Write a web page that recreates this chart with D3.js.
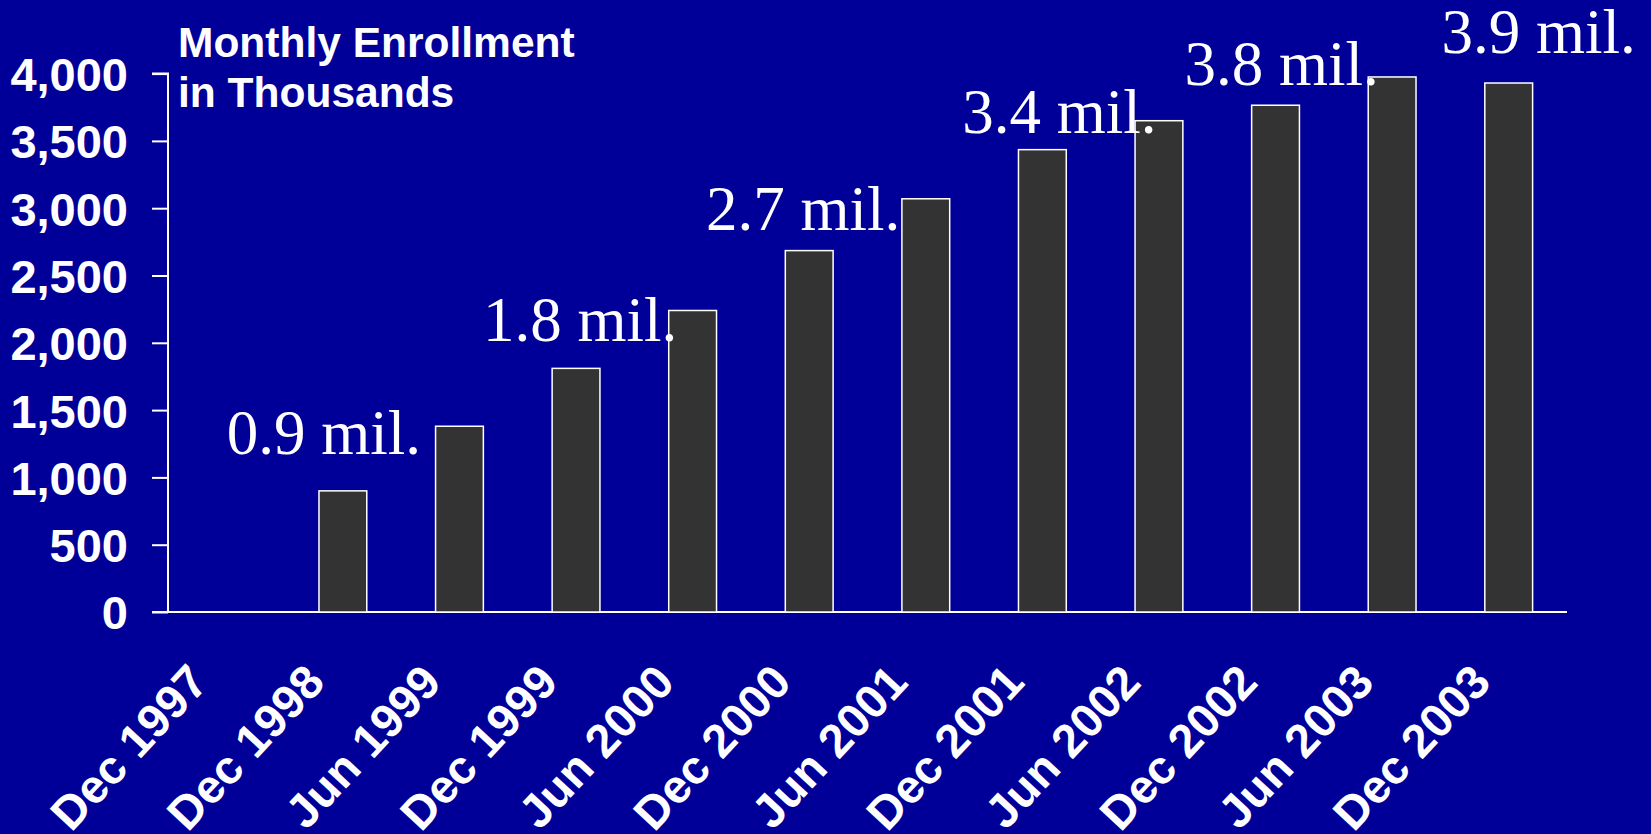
<!DOCTYPE html>
<html>
<head>
<meta charset="utf-8">
<script src="https://cdn.jsdelivr.net/npm/d3@7/dist/d3.min.js"></script>
<style>
  html, body { margin: 0; padding: 0; background: #000099; overflow: hidden; }
  svg { display: block; }
</style>
</head>
<body>
<div id="chart"></div>
<script>
// data
const categories = ['Dec 1997', 'Dec 1998', 'Jun 1999', 'Dec 1999', 'Jun 2000', 'Dec 2000',
  'Jun 2001', 'Dec 2001', 'Jun 2002', 'Dec 2002', 'Jun 2003', 'Dec 2003'];
const enrollment = [null, 900, 1380, 1810, 2240, 2685, 3070, 3435, 3650, 3765, 3975, 3930];
const yTickValues = [0, 500, 1000, 1500, 2000, 2500, 3000, 3500, 4000];
const calloutCategories = ['Dec 1998', 'Dec 1999', 'Dec 2000', 'Dec 2001', 'Dec 2002', 'Dec 2003'];
const calloutTexts = ['0.9 mil.', '1.8 mil.', '2.7 mil.', '3.4 mil.', '3.8 mil.', '3.9 mil.'];
const titleLines = ['Monthly Enrollment', 'in Thousands'];

// layout
const width = 1651;
const height = 834;
const bgColor = '#000099';
const barColor = '#333333';
const lineColor = '#ffffff';
const sansFont = '"Liberation Sans", Arial, sans-serif';
const serifFont = '"Liberation Serif", "Times New Roman", serif';
// free-floating text boxes on the slide, nudged from the bar top
const calloutDx = [-19, 4, -6, 17, 6, 30];
const calloutGap = [37, 27, 21, 17, 20, 30];

const plot = {left: 168, right: 1567, top: 73.6, bottom: 612};

const svg = d3.select('#chart')
  .append('svg')
  .attr('width', width)
  .attr('height', height);

svg.append('rect')
  .attr('width', width)
  .attr('height', height)
  .attr('fill', bgColor);

const xScale = d3.scaleBand()
  .domain(categories)
  .range([plot.left, plot.right])
  .paddingInner(0.59)
  .paddingOuter(0.295);

const yScale = d3.scaleLinear()
  .domain([0, 4000])
  .range([plot.bottom, plot.top]);

const rows = categories.map((c, i) => ({label: c, value: enrollment[i]}));

// y axis
const yAxis = svg.append('g')
  .attr('transform', `translate(${plot.left},0)`)
  .call(d3.axisLeft(yScale)
    .tickValues(yTickValues)
    .tickFormat(d3.format(','))
    .tickSize(16)
    .tickPadding(24));

yAxis.select('.domain')
  .attr('stroke', lineColor)
  .attr('stroke-width', 2)
  .attr('d', `M-16,${yScale(4000)}H0V${plot.bottom}`);
yAxis.selectAll('.tick line')
  .attr('stroke', lineColor)
  .attr('stroke-width', 2);
yAxis.selectAll('.tick text')
  .attr('fill', 'white')
  .attr('dy', '0.36em')
  .style('font-family', sansFont)
  .style('font-weight', 'bold')
  .style('font-size', '47px');

// x axis
const xAxis = svg.append('g')
  .attr('transform', `translate(0,${plot.bottom})`)
  .call(d3.axisBottom(xScale).tickSize(0).tickPadding(0));

xAxis.select('.domain')
  .attr('stroke', lineColor)
  .attr('stroke-width', 2)
  .attr('d', `M${plot.left - 16},0H${plot.right}`);

xAxis.selectAll('.tick text')
  .attr('fill', 'white')
  .attr('text-anchor', 'end')
  .attr('dy', 0)
  .attr('transform', 'translate(-16,72) rotate(-47)')
  .style('font-family', sansFont)
  .style('font-weight', 'bold')
  .style('font-size', '47px');

// bars
svg.append('g')
  .selectAll('rect')
  .data(rows.filter(d => d.value != null))
  .join('rect')
  .attr('x', d => xScale(d.label))
  .attr('y', d => yScale(d.value))
  .attr('width', xScale.bandwidth())
  .attr('height', d => yScale(0) - yScale(d.value))
  .attr('fill', barColor)
  .attr('stroke', lineColor)
  .attr('stroke-width', 1.5);

// million callouts
svg.append('g')
  .selectAll('text')
  .data(calloutCategories)
  .join('text')
  .attr('x', (c, i) => xScale(c) + xScale.bandwidth() / 2 + calloutDx[i])
  .attr('y', (c, i) => yScale(enrollment[categories.indexOf(c)]) - calloutGap[i])
  .attr('text-anchor', 'middle')
  .attr('fill', 'white')
  .style('font-family', serifFont)
  .style('font-size', '63px')
  .text((c, i) => calloutTexts[i]);

// title
svg.append('text')
  .attr('x', 178)
  .attr('y', 57)
  .attr('fill', 'white')
  .style('font-family', sansFont)
  .style('font-weight', 'bold')
  .style('font-size', '42.5px')
  .selectAll('tspan')
  .data(titleLines)
  .join('tspan')
  .attr('x', 178)
  .attr('dy', (d, i) => i === 0 ? 0 : 50)
  .text(d => d);
</script>
</body>
</html>
